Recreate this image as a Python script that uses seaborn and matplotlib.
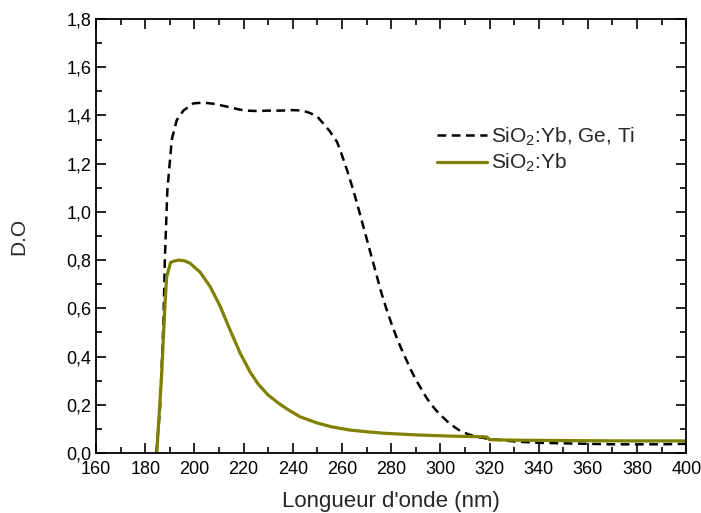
import pandas as pd
import matplotlib
matplotlib.use("Agg")
import matplotlib.pyplot as plt
from matplotlib.ticker import MultipleLocator
import seaborn as sns

# =====================================
# DATA
# =====================================

wl_doped = [184.5, 186, 187.4, 188, 189, 190.8, 192.8, 195.5, 199.6, 203.7,
            208, 213, 218, 221, 226, 230, 235, 240, 244, 247,
            250, 252.5, 255, 258, 260, 262, 264, 266, 268, 270,
            272, 274, 276, 278, 280, 282, 284, 286, 288, 290,
            292, 294, 296, 298, 300, 304, 308, 312, 316, 320,
            326, 330, 340, 350, 360, 370, 380, 390, 400]
do_doped = [0.0, 0.18, 0.54, 0.81, 1.09, 1.30, 1.38, 1.42, 1.45, 1.453,
            1.448, 1.437, 1.425, 1.42, 1.418, 1.42, 1.42, 1.422, 1.42, 1.41,
            1.395, 1.365, 1.335, 1.29, 1.235, 1.175, 1.11, 1.04, 0.965, 0.89,
            0.815, 0.74, 0.665, 0.60, 0.54, 0.485, 0.435, 0.39, 0.345, 0.305,
            0.27, 0.235, 0.205, 0.18, 0.158, 0.12, 0.092, 0.075, 0.065, 0.058,
            0.052, 0.048, 0.042, 0.04, 0.038, 0.036, 0.036, 0.036, 0.038]

wl_yb = [184.7, 186.7, 188, 188.7, 190.3, 191.5, 193.5, 196, 198.2, 202.3,
         206.4, 210.4, 214.5, 218.6, 222.7, 226, 230, 234, 238, 243,
         249.7, 256, 263.3, 270, 276.9, 290, 304, 317.6, 319, 320,
         331, 357, 380, 400]
do_yb = [0.0, 0.33, 0.61, 0.73, 0.79, 0.795, 0.80, 0.797, 0.787, 0.75,
         0.69, 0.61, 0.51, 0.414, 0.335, 0.285, 0.24, 0.208, 0.18, 0.15,
         0.125, 0.108, 0.095, 0.088, 0.082, 0.075, 0.07, 0.067, 0.066, 0.055,
         0.053, 0.051, 0.05, 0.05]

labels = [r"SiO$_2$:Yb, Ge, Ti", r"SiO$_2$:Yb"]

x_ticks = [160, 180, 200, 220, 240, 260, 280, 300, 320, 340, 360, 380, 400]
y_ticks = [0.0, 0.2, 0.4, 0.6, 0.8, 1.0, 1.2, 1.4, 1.6, 1.8]
y_tick_labels = ["0,0", "0,2", "0,4", "0,6", "0,8", "1,0", "1,2", "1,4", "1,6", "1,8"]

df_doped = pd.DataFrame({"wl": wl_doped, "do": do_doped})
df_yb = pd.DataFrame({"wl": wl_yb, "do": do_yb})

# =====================================
# STYLE
# =====================================

sns.set_style("ticks")
plt.rcParams["font.family"] = ["Liberation Sans", "DejaVu Sans"]
plt.rcParams["mathtext.fontset"] = "custom"
plt.rcParams["mathtext.rm"] = "Liberation Sans"
plt.rcParams["mathtext.it"] = "Liberation Sans:italic"

fig = plt.figure(figsize=(7.01, 5.13), dpi=100)
ax = fig.add_axes([0.137, 0.117, 0.842, 0.846])

# =====================================
# PLOT
# =====================================

sns.lineplot(data=df_doped, x="wl", y="do", ax=ax, color="black",
             linewidth=1.8, label=labels[0], sort=False)
ax.lines[-1].set_dashes((3.5, 2.2))

sns.lineplot(data=df_yb, x="wl", y="do", ax=ax, color="#808000",
             linewidth=2.3, label=labels[1], sort=False)

ax.set_xlim(160, 400)
ax.set_ylim(0, 1.8)
ax.set_xticks(x_ticks)
ax.set_xticklabels([str(t) for t in x_ticks])
ax.set_yticks(y_ticks)
ax.set_yticklabels(y_tick_labels)
ax.xaxis.set_minor_locator(MultipleLocator(10))
ax.yaxis.set_minor_locator(MultipleLocator(0.1))

ax.tick_params(which="both", direction="in", top=True, right=True,
               width=1.2, labelsize=13, colors="black")
ax.tick_params(which="major", length=7)
ax.tick_params(which="minor", length=4)
ax.tick_params(axis="x", which="major", pad=6)

for s in ax.spines.values():
    s.set_linewidth(1.3)
    s.set_color("black")

ax.set_xlabel("Longueur d'onde (nm)", fontsize=16, labelpad=9)
ax.set_ylabel("D.O", fontsize=15, labelpad=27)

ax.legend(loc="center left", bbox_to_anchor=(0.578, 0.698), frameon=False,
          fontsize=15, handlelength=2.4, handletextpad=0.2,
          borderpad=0, borderaxespad=0, labelspacing=0.2)

plt.savefig("out.png", dpi=100)
